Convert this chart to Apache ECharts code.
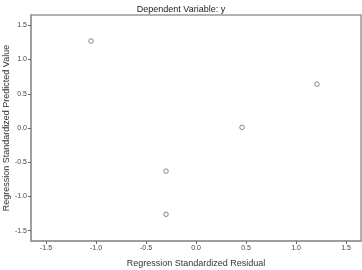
<!DOCTYPE html>
<html><head><meta charset="utf-8">
<script src="https://cdn.jsdelivr.net/npm/echarts@6/dist/echarts.min.js"></script>
<style>html,body{margin:0;padding:0;background:#fff}#c{width:362px;height:270px}</style>
</head><body><div id="c"></div>
<script>
const titleText = 'Dependent Variable: y';
const xName = 'Regression Standardized Residual';
const yName = 'Regression Standardized Predicted Value';
const residuals = [-1.05, 1.21, 0.46, -0.30, -0.30];
const predicted = [1.27, 0.64, 0.01, -0.63, -1.26];
const xTicks = [-1.5, -1.0, -0.5, 0.0, 0.5, 1.0, 1.5];
const yTicks = [-1.5, -1.0, -0.5, 0.0, 0.5, 1.0, 1.5];

const chart = echarts.init(document.getElementById('c'), null, {renderer: 'canvas'});
const font = 'Liberation Sans, Arial, sans-serif';
const axisCommon = {
  axisLine: {show: true, onZero: false, lineStyle: {color: '#999', width: 1.5}},
  axisTick: {show: true, length: 3, lineStyle: {color: '#666'}},
  splitLine: {show: false},
  axisLabel: {fontSize: 7, color: '#444', fontFamily: font, formatter: v => v.toFixed(1)},
  nameLocation: 'middle',
  nameMoveOverlap: false,
  nameTextStyle: {fontSize: 9, color: '#333', fontFamily: font}
};
chart.setOption({
  animation: false,
  title: {text: titleText, left: 'center', top: 0, textStyle: {fontSize: 9, fontWeight: 'normal', color: '#222', fontFamily: font}},
  grid: {left: 31, right: 1, top: 15, bottom: 29, containLabel: false, outerBoundsMode: 'none',
         show: true, borderColor: '#999', borderWidth: 1.5},
  xAxis: Object.assign({}, axisCommon, {
    type: 'value', min: -1.65, max: 1.65, name: xName, nameGap: 18,
    axisLabel: Object.assign({}, axisCommon.axisLabel, {
      customValues: xTicks, margin: 4, showMinLabel: true, showMaxLabel: true}),
    axisTick: Object.assign({}, axisCommon.axisTick, {customValues: xTicks})
  }),
  yAxis: Object.assign({}, axisCommon, {
    type: 'value', min: -1.65, max: 1.65, name: yName, nameGap: 20,
    axisLabel: Object.assign({}, axisCommon.axisLabel, {customValues: yTicks, margin: 4}),
    axisTick: Object.assign({}, axisCommon.axisTick, {customValues: yTicks})
  }),
  series: [{
    type: 'scatter',
    data: residuals.map((r, i) => [r, predicted[i]]),
    symbol: 'circle', symbolSize: 4.5,
    itemStyle: {color: '#fff', borderColor: '#666', borderWidth: 1}
  }]
});
</script></body></html>
